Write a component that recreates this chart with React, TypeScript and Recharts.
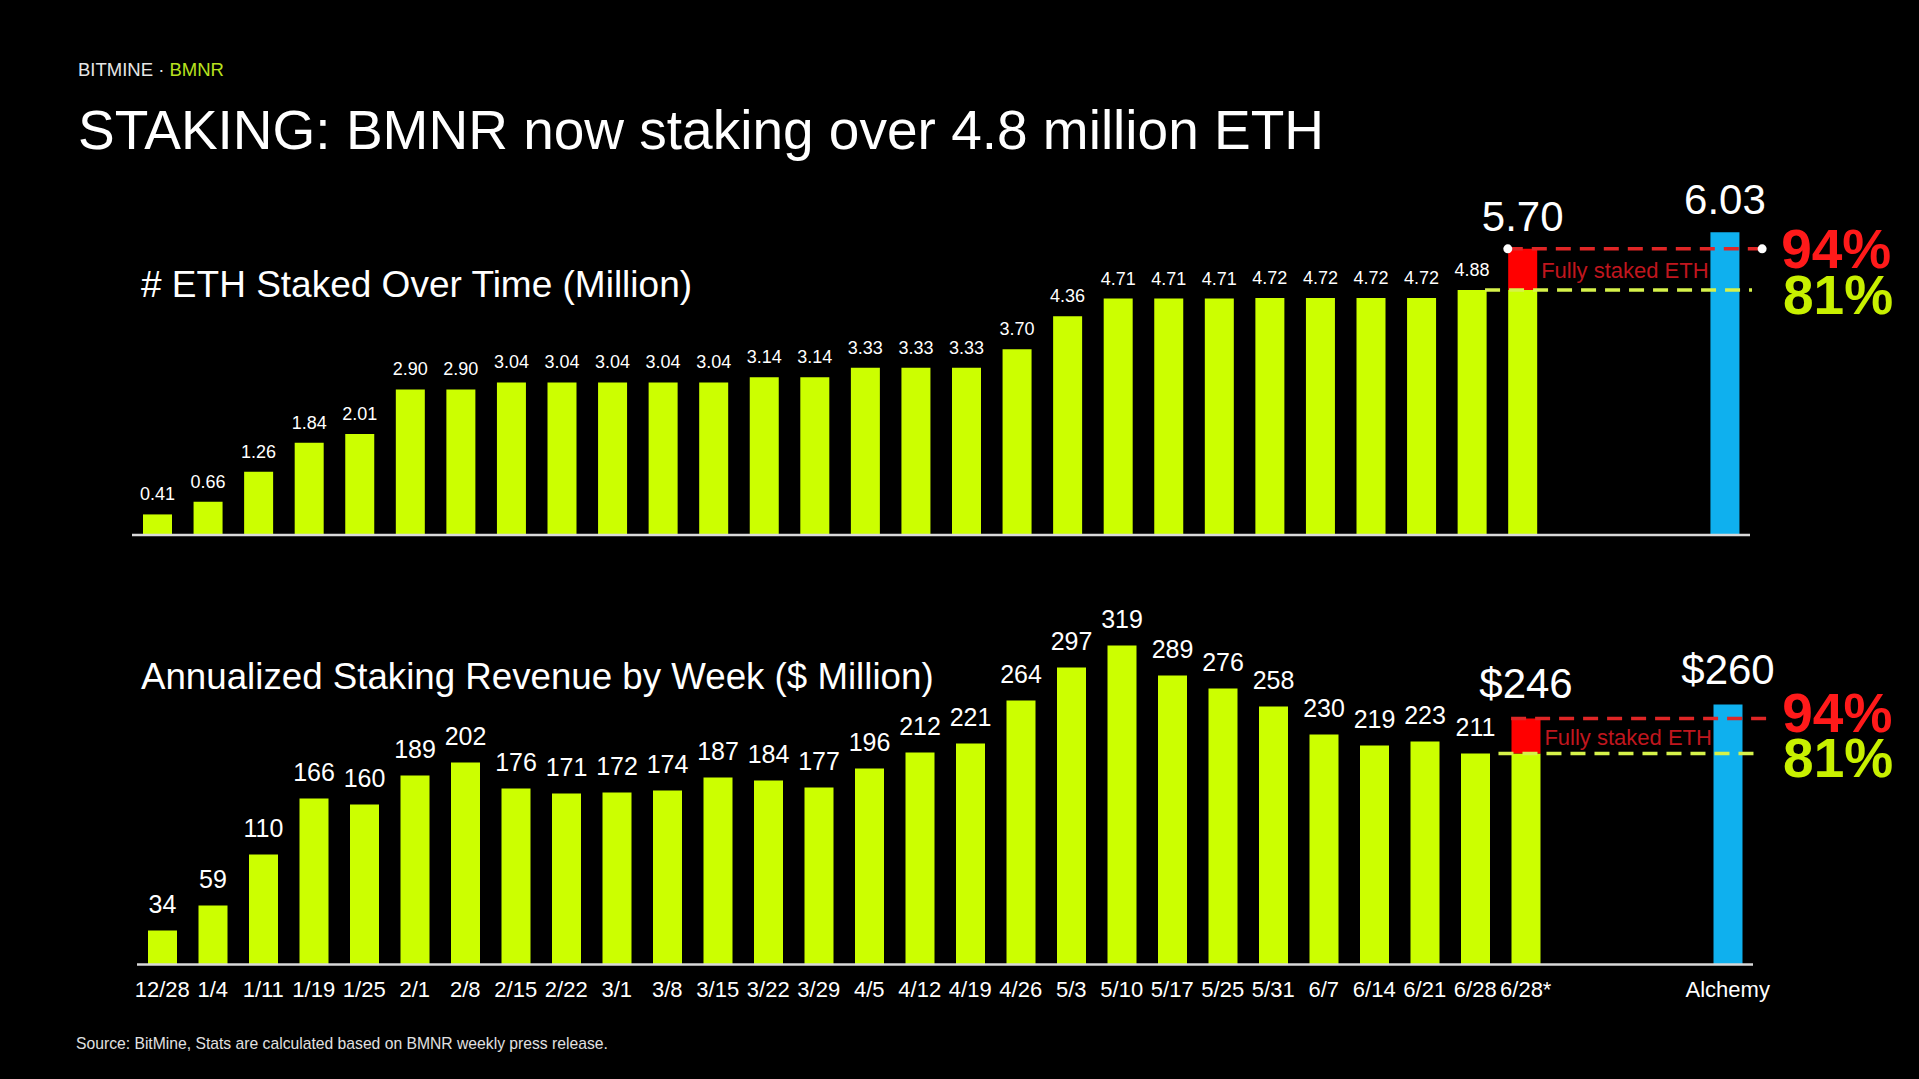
import React from 'react';
import {
  BarChart,
  Bar,
  XAxis,
  YAxis,
  Cell,
  LabelList,
  ReferenceLine,
  ReferenceArea,
  ReferenceDot,
} from 'recharts';

// week labels (the 6/28* projection and the Alchemy benchmark are added separately)
const weeks = [
  '12/28', '1/4', '1/11', '1/19', '1/25', '2/1', '2/8', '2/15', '2/22', '3/1',
  '3/8', '3/15', '3/22', '3/29', '4/5', '4/12', '4/19', '4/26', '5/3', '5/10',
  '5/17', '5/25', '5/31', '6/7', '6/14', '6/21', '6/28',
];
const splitName = '6/28*';
const benchmarkName = 'Alchemy';
const gapSlots = 3;

// # ETH staked (million)
const ethStaked = [
  0.41, 0.66, 1.26, 1.84, 2.01, 2.9, 2.9, 3.04, 3.04, 3.04,
  3.04, 3.04, 3.14, 3.14, 3.33, 3.33, 3.33, 3.7, 4.36, 4.71,
  4.71, 4.71, 4.72, 4.72, 4.72, 4.72, 4.88,
];
const ethSplitBase = 4.88;
const ethFullyStaked = 5.7;
const ethAlchemy = 6.03;

// annualized staking revenue ($ million)
const revenue = [
  34, 59, 110, 166, 160, 189, 202, 176, 171, 172,
  174, 187, 184, 177, 196, 212, 221, 264, 297, 319,
  289, 276, 258, 230, 219, 223, 211,
];
const revSplitBase = 211;
const revFullyStaked = 246;
const revAlchemy = 260;

const pctFull = '94%';
const pctNow = '81%';
const fullyStakedText = 'Fully staked ETH';

const LIME = '#ccff00';
const BLUE = '#0fb0ee';
const RED = '#ff0000';
const FONT = '"Liberation Sans", Arial, Helvetica, sans-serif';

type Row = {
  pos: number;
  name: string;
  base: number;
  extra: number | null;
  small: string | null;
  split: string | null;
  big: string | null;
  bench: boolean;
};

function buildRows(
  values: number[],
  splitBase: number,
  full: number,
  bench: number,
  fmt: (v: number) => string,
  fmtBig: (v: number) => string,
): Row[] {
  const rows: Row[] = values.map((v, i) => ({
    pos: i,
    name: weeks[i],
    base: v,
    extra: null,
    small: fmt(v),
    split: null,
    big: null,
    bench: false,
  }));
  const splitPos = values.length;
  rows.push({
    pos: splitPos,
    name: splitName,
    base: splitBase,
    extra: Math.round((full - splitBase) * 100) / 100,
    small: null,
    split: fmtBig(full),
    big: null,
    bench: false,
  });
  rows.push({
    pos: splitPos + 1 + gapSlots,
    name: benchmarkName,
    base: bench,
    extra: null,
    small: null,
    split: null,
    big: fmtBig(bench),
    bench: true,
  });
  return rows;
}

const ethRows = buildRows(ethStaked, ethSplitBase, ethFullyStaked, ethAlchemy, (v) => v.toFixed(2), (v) => v.toFixed(2));
const revRows = buildRows(revenue, revSplitBase, revFullyStaked, revAlchemy, (v) => String(v), (v) => '$' + v);

function AnnoText(props: any) {
  const { viewBox, text, color, size, weight = 400, dx = 0, dy = 0, side = 'start' } = props;
  if (!viewBox) return null;
  const x = side === 'end' ? viewBox.x + viewBox.width + dx : viewBox.x + dx;
  const y = viewBox.y + (viewBox.height || 0) / 2 + dy;
  return (
    <text x={x} y={y} fill={color} fontSize={size} fontWeight={weight} fontFamily={FONT} dominantBaseline="central">
      {text}
    </text>
  );
}

type PanelProps = {
  rows: Row[];
  top: number;
  height: number;
  margin: { top: number; right: number; bottom: number; left: number };
  yMax: number;
  splitBase: number;
  full: number;
  showTicks: boolean;
  smallSize: number;
  smallOffset: number;
  bigOffset: number;
  redLine: [number, number];
  greenLine: [number, number];
  dots: boolean;
  pctFullDx: number;
  pctFullDy: number;
  pctNowDx: number;
  pctNowDy: number;
};

function Panel(p: PanelProps) {
  const last = p.rows[p.rows.length - 1].pos;
  const splitPos = p.rows[p.rows.length - 2].pos;
  return (
    <div style={{ position: 'absolute', left: 0, top: p.top, width: 1919, height: p.height }}>
      <BarChart width={1919} height={p.height} data={p.rows} margin={p.margin} barSize={29}>
        <XAxis
          type="number"
          dataKey="pos"
          domain={[-0.5, last + 0.5]}
          ticks={p.rows.map((r) => r.pos)}
          interval={0}
          tickFormatter={(v: number) => p.rows.find((r) => r.pos === v)?.name ?? ''}
          hide={!p.showTicks}
          height={40}
          tickLine={false}
          tickMargin={11}
          axisLine={{ stroke: '#d9d9d9', strokeWidth: 2.5 }}
          tick={{ fill: '#ffffff', fontSize: 22, fontFamily: FONT }}
        />
        <YAxis hide domain={[0, p.yMax]} />
        <Bar dataKey="base" stackId="s" isAnimationActive={false}>
          {p.rows.map((r) => (
            <Cell key={r.pos} fill={r.bench ? BLUE : LIME} />
          ))}
          <LabelList dataKey="small" position="top" offset={p.smallOffset} fill="#ffffff" fontSize={p.smallSize} fontFamily={FONT} />
          <LabelList dataKey="big" position="top" offset={p.bigOffset} fill="#ffffff" fontSize={42} fontFamily={FONT} />
        </Bar>
        <Bar dataKey="extra" stackId="s" fill={RED} isAnimationActive={false}>
          <LabelList dataKey="split" position="top" offset={p.bigOffset} fill="#ffffff" fontSize={42} fontFamily={FONT} />
        </Bar>
        {!p.showTicks && <ReferenceLine y={0} stroke="#d9d9d9" strokeWidth={2.5} />}
        <ReferenceArea
          x1={splitPos + 0.29}
          x2={last - 0.3}
          y1={p.splitBase}
          y2={p.full}
          fillOpacity={0}
          strokeOpacity={0}
          label={<AnnoText text={fullyStakedText} color="#c0161e" size={22} dx={4} dy={1} />}
        />
        <ReferenceLine
          segment={[
            { x: p.greenLine[0], y: p.splitBase },
            { x: p.greenLine[1], y: p.splitBase },
          ]}
          stroke="#d6f24a"
          strokeWidth={3.5}
          strokeDasharray="15 9"
          ifOverflow="visible"
          label={<AnnoText text={pctNow} color="#c8f000" size={55} weight={700} side="end" dx={p.pctNowDx} dy={p.pctNowDy} />}
        />
        <ReferenceLine
          segment={[
            { x: p.redLine[0], y: p.full },
            { x: p.redLine[1], y: p.full },
          ]}
          stroke="#e02626"
          strokeWidth={3.5}
          strokeDasharray="15 9"
          ifOverflow="visible"
          label={<AnnoText text={pctFull} color="#ff1a1a" size={55} weight={700} side="end" dx={p.pctFullDx} dy={p.pctFullDy} />}
        />
        {p.dots && (
          <ReferenceDot x={p.redLine[0]} y={p.full} r={4.5} fill="#ffffff" stroke="none" ifOverflow="visible" />
        )}
        {p.dots && (
          <ReferenceDot x={p.redLine[1]} y={p.full} r={4.5} fill="#ffffff" stroke="none" ifOverflow="visible" />
        )}
      </BarChart>
    </div>
  );
}

export default function App() {
  const splitPos = ethStaked.length;
  const benchPos = splitPos + 1 + gapSlots;
  return (
    <div style={{ position: 'relative', width: 1919, height: 1079, background: '#000', overflow: 'hidden' }}>
      <style>{'body{margin:0;background:#000}'}</style>
      <svg width={1919} height={1079} style={{ position: 'absolute', left: 0, top: 0 }}>
        <text x={78} y={76} fontSize={18.5} fontFamily={FONT}>
          <tspan fill="#e6e6e6">BITMINE · </tspan>
          <tspan fill="#b8e21e">BMNR</tspan>
        </text>
        <text x={78} y={149} fontSize={55} fill="#ffffff" fontFamily={FONT}>
          STAKING: BMNR now staking over 4.8 million ETH
        </text>
        <text x={141} y={297} fontSize={37} fill="#ffffff" fontFamily={FONT}>
          # ETH Staked Over Time (Million)
        </text>
        <text x={141} y={689} fontSize={36.7} fill="#ffffff" fontFamily={FONT}>
          Annualized Staking Revenue by Week ($ Million)
        </text>
        <text x={76} y={1049} fontSize={15.7} fill="#e0e0e0" fontFamily={FONT}>
          Source: BitMine, Stats are calculated based on BMNR weekly press release.
        </text>
      </svg>
      <Panel
        rows={ethRows}
        top={0}
        height={560}
        margin={{ top: 183.6, right: 169, bottom: 25, left: 132 }}
        yMax={7}
        splitBase={ethSplitBase}
        full={ethFullyStaked}
        showTicks={false}
        smallSize={18}
        smallOffset={14}
        bigOffset={18}
        redLine={[splitPos - 0.29, benchPos + 0.74]}
        greenLine={[splitPos - 0.74, benchPos + 0.54]}
        dots
        pctFullDx={19}
        pctFullDy={0}
        pctNowDx={31}
        pctNowDy={5}
      />
      <Panel
        rows={revRows}
        top={520}
        height={540}
        margin={{ top: 44.5, right: 166, bottom: 55.5, left: 137 }}
        yMax={400}
        splitBase={revSplitBase}
        full={revFullyStaked}
        showTicks
        smallSize={25}
        smallOffset={18}
        bigOffset={21}
        redLine={[splitPos - 0.29, benchPos + 0.92]}
        greenLine={[splitPos - 0.54, benchPos + 0.6]}
        dots={false}
        pctFullDx={8}
        pctFullDy={-6}
        pctNowDx={25}
        pctNowDy={4}
      />
    </div>
  );
}
